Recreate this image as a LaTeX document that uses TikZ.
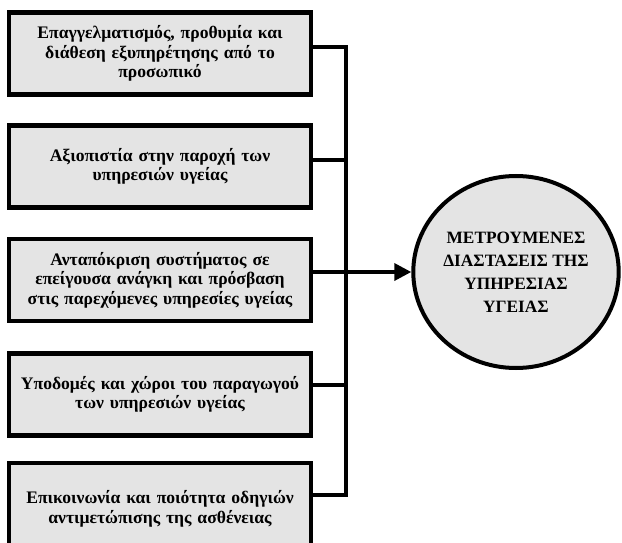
\documentclass[tikz,border=0pt]{standalone}
\usepackage{fontspec}
\setmainfont{Liberation Serif}
\usetikzlibrary{arrows.meta,shapes.geometric}
\definecolor{boxfill}{HTML}{E4E4E4}
\tikzset{
  factorbox/.style={draw=black, line width=4.4pt, fill=boxfill, minimum width=302pt,
    minimum height=82pt, text width=290pt, align=center, inner sep=0pt,
    font=\bfseries\fontsize{17.6}{19.5}\selectfont},
  linkline/.style={line width=3.6pt},
  goal/.style={ellipse, draw=black, line width=4pt, fill=boxfill, minimum width=202pt,
    minimum height=192pt, align=center, inner sep=0pt,
    font=\bfseries\fontsize{17.3}{23}\selectfont}
}
\begin{document}
\begin{tikzpicture}[x=1pt,y=-1pt]
\useasboundingbox (0,0) rectangle (622,543);
\clip (0,0) rectangle (622,543);
\node[factorbox] (b1) at (160,53.5) {Επαγγελματισμός, προθυμία και\\διάθεση εξυπηρέτησης από το\\προσωπικό};
\node[factorbox] (b2) at (160,166.5) {Αξιοπιστία στην παροχή των\\υπηρεσιών υγείας};
\node[factorbox] (b3) at (160,280) {Ανταπόκριση συστήματος σε\\επείγουσα ανάγκη και πρόσβαση\\στις παρεχόμενες υπηρεσίες υγείας};
\node[factorbox] (b4) at (160,394.5) {Υποδομές και χώροι του παραγωγού\\των υπηρεσιών υγείας};
\node[factorbox, minimum height=92pt] (b5) at (160,509) {Επικοινωνία και ποιότητα οδηγιών\\αντιμετώπισης της ασθένειας\\[12pt]};
\node[goal] (c) at (516,272) {ΜΕΤΡΟΥΜΕΝΕΣ\\ΔΙΑΣΤΑΣΕΙΣ ΤΗΣ\\ΥΠΗΡΕΣΙΑΣ\\ΥΓΕΙΑΣ};
\coordinate (top) at (346,47);
\coordinate (bot) at (346,495);
\draw[linkline] ([yshift=6.5pt]b1.east) -- (top) -- (bot) -- ([yshift=14pt]b5.east);
\draw[linkline] ([yshift=6.5pt]b2.east) -- ([yshift=6.5pt]b2.east -| top);
\draw[linkline] ([yshift=9.5pt]b4.east) -- ([yshift=9.5pt]b4.east -| top);
\draw[linkline, -{Triangle[length=17pt,width=17pt]}] ([yshift=8pt]b3.east) -- (c.west);
\end{tikzpicture}
\end{document}
